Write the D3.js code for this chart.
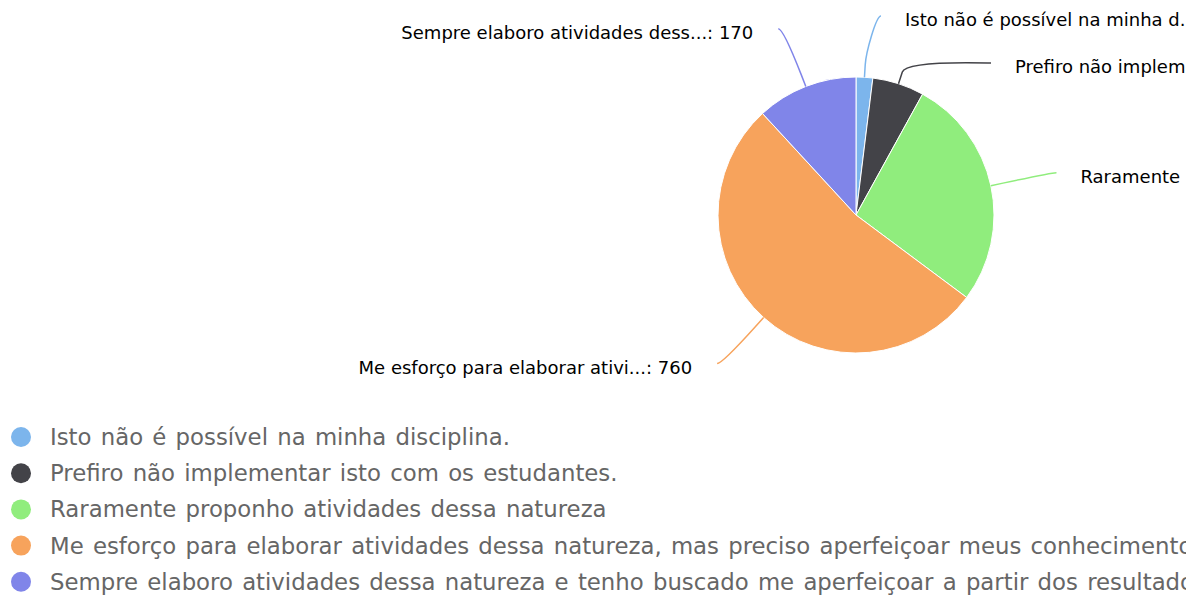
<!DOCTYPE html>
<html>
<head>
<meta charset="utf-8">
<script src="https://cdn.jsdelivr.net/npm/d3@7"></script>
<style>
  body { margin: 0; overflow: hidden; background: #fff; }
  text { font-family: "DejaVu Sans", Verdana, sans-serif; }
</style>
</head>
<body>
<div id="chart"></div>
<script>
// answers (categories) and counts
var answers = [
  "Isto não é possível na minha disciplina.",
  "Prefiro não implementar isto com os estudantes.",
  "Raramente proponho atividades dessa natureza",
  "Me esforço para elaborar atividades dessa natureza, mas preciso aperfeiçoar meus conhecimentos.",
  "Sempre elaboro atividades dessa natureza e tenho buscado me aperfeiçoar a partir dos resultados."
];
var counts = [28, 87, 390, 760, 170];
var colors = ["#7cb5ec", "#434348", "#90ed7d", "#f7a35c", "#8085e9"];

// svg defs (the original chart is wider than the window, so it gets cut on the right)
var svgWidth = 1186;
var svgHeight = 596;
var chartWidth = 1712;

var cx = chartWidth / 2;
var cy = 215;
var radius = 138;
var labelDistance = 62;
var labelTop = 16;
var labelSlot = 47;

var svg = d3.select("#chart")
  .append("svg")
  .attr("width", svgWidth)
  .attr("height", svgHeight);

var data = answers.map(function(a, i) {
  return { name: a, value: counts[i], color: colors[i] };
});

var pie = d3.pie()
  .sort(null)
  .value(d => d.value);

var arcs = pie(data);

var arc = d3.arc()
  .innerRadius(0)
  .outerRadius(radius);

var pieGroup = svg.append("g")
  .attr("transform", `translate(${cx}, ${cy})`);

pieGroup.selectAll("path")
  .data(arcs)
  .enter()
  .append("path")
  .attr("d", arc)
  .attr("fill", d => d.data.color)
  .attr("stroke", "#fff")
  .attr("stroke-width", 1)
  .attr("stroke-linejoin", "round");

// data label placement, roughly like highcharts does it
var R = radius + labelDistance;
var connectorOffset = Math.min(15, labelDistance / 5);

arcs.forEach(function(d) {
  var mid = (d.startAngle + d.endAngle) / 2;
  d.mid = mid;
  d.left = mid > Math.PI;
  d.ny = cy - Math.cos(mid) * R;
});

function spread(items) {
  items.sort((a, b) => a.ny - b.ny);
  var prev = -Infinity;
  items.forEach(function(d) {
    d.ly = Math.max(d.ny, labelTop, prev + labelSlot);
    prev = d.ly;
  });
}
spread(arcs.filter(d => !d.left));
spread(arcs.filter(d => d.left));

arcs.forEach(function(d) {
  var dy = Math.max(-R, Math.min(R, d.ly - cy));
  var dx = Math.sqrt(R * R - dy * dy) + 5;
  d.lx = cx + (d.left ? -dx : dx);
  var s = Math.sin(d.mid), c = Math.cos(d.mid);
  d.touch = [cx + s * radius, cy - c * radius];
  d.brk = [cx + s * (radius + connectorOffset), cy - c * (radius + connectorOffset)];
});

var labelGroup = svg.append("g");

labelGroup.selectAll("path")
  .data(arcs)
  .enter()
  .append("path")
  .attr("fill", "none")
  .attr("stroke", d => d.data.color)
  .attr("stroke-width", 1.5)
  .attr("d", function(d) {
    var p = d3.path();
    p.moveTo(d.lx, d.ly);
    p.bezierCurveTo(
      d.lx + (d.left ? 5 : -5), d.ly,
      2 * d.brk[0] - d.touch[0], 2 * d.brk[1] - d.touch[1],
      d.brk[0], d.brk[1]);
    p.lineTo(d.touch[0], d.touch[1]);
    return p.toString();
  });

function shortName(name) {
  return name.length > 30 ? name.slice(0, 30) + "..." : name;
}

labelGroup.selectAll("text")
  .data(arcs)
  .enter()
  .append("text")
  .attr("x", d => d.lx + (d.left ? -25 : 24))
  .attr("y", d => d.ly + 4)
  .attr("dy", "0.35em")
  .attr("text-anchor", d => d.left ? "end" : "start")
  .style("font-size", "18px")
  .style("fill", "#000")
  .text(d => shortName(d.data.name) + ": " + d.data.value);

// legend
var legendTop = 437;
var legendStep = 36.2;

var legend = svg.append("g")
  .selectAll("g")
  .data(data)
  .enter()
  .append("g")
  .attr("transform", (d, i) => `translate(0, ${legendTop + i * legendStep})`);

legend.append("circle")
  .attr("cx", 21)
  .attr("cy", 0)
  .attr("r", 10)
  .attr("fill", d => d.color);

legend.append("text")
  .attr("x", 50)
  .attr("y", 0)
  .attr("dy", "0.35em")
  .style("font-size", "22.8px")
  .style("word-spacing", "2px")
  .style("fill", "#666")
  .text(d => d.name);
</script>
</body>
</html>
